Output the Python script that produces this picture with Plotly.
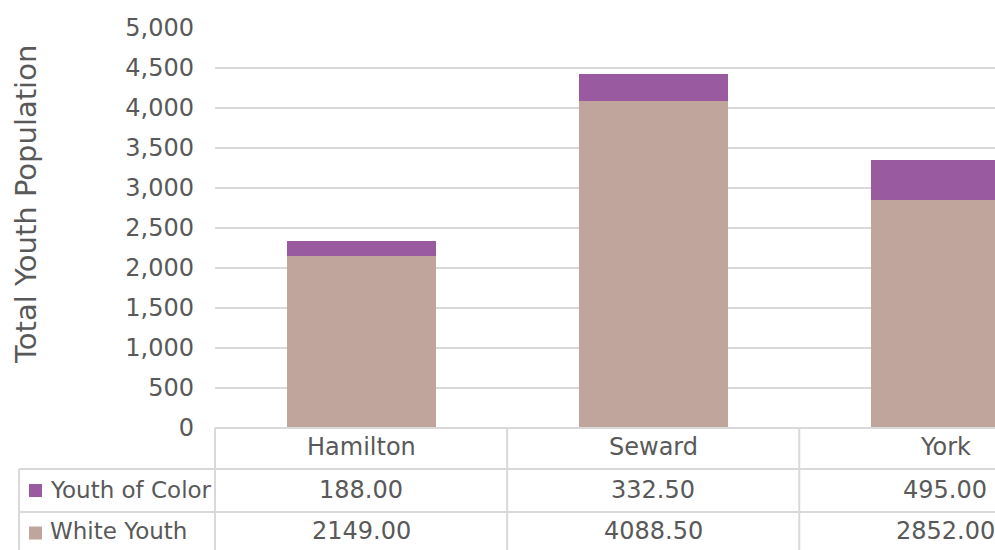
import plotly.graph_objects as go

categories = ["Hamilton", "Seward", "York"]
white_youth = [2149.00, 4088.50, 2852.00]
youth_of_color = [188.00, 332.50, 495.00]
series_names = ["Youth of Color", "White Youth"]
series_colors = ["#9A5AA0", "#BFA59C"]
y_ticks = [0, 500, 1000, 1500, 2000, 2500, 3000, 3500, 4000, 4500, 5000]

FONT = "DejaVu Sans"
TXT = "#595959"
GRID = "#D9D9D9"

W, H = 995, 550
L, R, T, B = 215, 0, 28, 122
PW, PH = W - L - R, H - T - B

def py(pix):  # pixel y -> paper y
    return (T + PH - pix) / PH

def px(pix):  # pixel x -> paper x
    return (pix - L) / PW

fig = go.Figure()
fig.add_trace(go.Bar(x=categories, y=white_youth, name=series_names[1],
                     marker=dict(color=series_colors[1], line=dict(width=0)), width=0.51))
fig.add_trace(go.Bar(x=categories, y=youth_of_color, name=series_names[0],
                     marker=dict(color=series_colors[0], line=dict(width=0)), width=0.51))

shapes = []
line = dict(color=GRID, width=2)
# table horizontal lines
shapes.append(dict(type="line", xref="paper", yref="paper", x0=0, x1=1, y0=0, y1=0, line=line))
for yy in [469, 512]:
    shapes.append(dict(type="line", xref="paper", yref="paper", x0=px(19), x1=1, y0=py(yy), y1=py(yy), line=line))
# vertical lines
shapes.append(dict(type="line", xref="paper", yref="paper", x0=px(19), x1=px(19), y0=py(469), y1=py(552), line=line))
shapes.append(dict(type="line", xref="paper", yref="paper", x0=0, x1=0, y0=0, y1=py(552), line=line))
for i in range(len(categories) - 1):
    shapes.append(dict(type="line", xref="x", yref="paper", x0=i + 0.5, x1=i + 0.5, y0=0, y1=py(552), line=line))
# legend keys
for k, yy in enumerate([490.5, 533]):
    shapes.append(dict(type="rect", xref="paper", yref="paper", x0=px(29), x1=px(42),
                       y0=py(yy - 6.5), y1=py(yy + 6.5), fillcolor=series_colors[k], line=dict(width=0)))

ann = []
for i, c in enumerate(categories):
    ann.append(dict(x=c, xref="x", y=py(447), yref="paper", text=c, showarrow=False,
                    font=dict(family=FONT, size=24, color=TXT), xanchor="center", yanchor="middle"))
    ann.append(dict(x=c, xref="x", y=py(490), yref="paper", text=f"{youth_of_color[i]:.2f}", showarrow=False,
                    font=dict(family=FONT, size=24, color=TXT), xanchor="center", yanchor="middle"))
    ann.append(dict(x=c, xref="x", y=py(531), yref="paper", text=f"{white_youth[i]:.2f}", showarrow=False,
                    font=dict(family=FONT, size=24, color=TXT), xanchor="center", yanchor="middle"))
for k, yy in enumerate([490, 531]):
    ann.append(dict(x=px(48), xref="paper", y=py(yy), yref="paper", text=series_names[k], showarrow=False,
                    font=dict(family=FONT, size=23, color=TXT), xanchor="left", yanchor="middle"))
ann.append(dict(x=px(26), xref="paper", y=py(205), yref="paper", text="Total Youth Population",
                showarrow=False, textangle=-90, font=dict(family=FONT, size=29, color=TXT),
                xanchor="center", yanchor="middle"))

fig.update_layout(
    width=W, height=H, margin=dict(l=L, r=R, t=T, b=B, pad=0),
    barmode="stack", showlegend=False,
    plot_bgcolor="white", paper_bgcolor="white",
    font=dict(family=FONT, size=24, color=TXT),
    shapes=shapes, annotations=ann,
    xaxis=dict(type="category", range=[-0.5, 2.17], showticklabels=False, showgrid=False,
               zeroline=False, showline=False, fixedrange=True),
    yaxis=dict(range=[0, 5000], tickvals=y_ticks, ticktext=[f"{v:,}" for v in y_ticks],
               showgrid=True, gridcolor=GRID, gridwidth=2, zeroline=False, showline=False,
               ticks="", ticklabelstandoff=20, tickfont=dict(family=FONT, size=24, color=TXT)),
)

fig.write_html("out.html", config={"displayModeBar": False},
               post_script="document.body.style.margin='0';document.body.style.overflow='hidden';")
